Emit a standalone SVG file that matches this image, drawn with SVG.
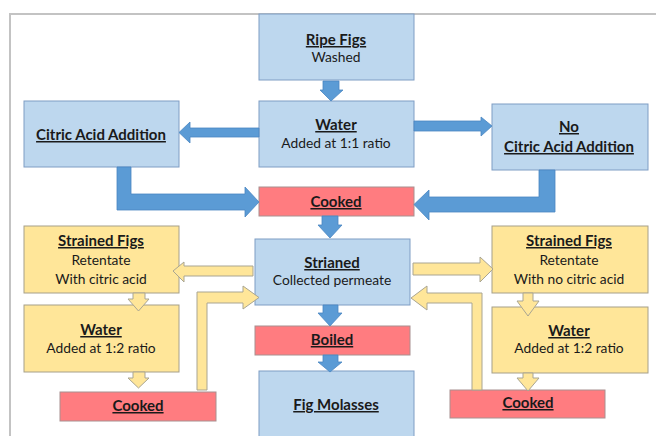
<svg xmlns="http://www.w3.org/2000/svg" width="656" height="436" viewBox="0 0 656 436">
  <style>
    .frame { stroke: #C3C3C3; stroke-width: 2; fill: none; }
    .blue { fill: #BDD7EE; stroke: #7F9DC4; stroke-width: 1; }
    .yellow { fill: #FFE699; stroke: #A6A08A; stroke-width: 1; }
    .red { fill: #FF7C80; stroke: #A89090; stroke-width: 1; }
    .arrow-blue { fill: #5B9BD5; stroke: #4A87C2; stroke-width: 0.8; }
    .arrow-yellow { fill: #FFE699; stroke: #A9A592; stroke-width: 1; }
    text { font-family: Lato, "Liberation Sans", sans-serif; font-size: 13.8px; fill: #1A1A1A; text-anchor: middle; }
    .title { font-weight: bold; font-size: 15px; text-decoration: underline; }
  </style>

  <!-- page frame -->
  <path class="frame" d="M10,436 V14 H656"/>

  <!-- process steps -->
  <g id="ripe-figs">
    <rect class="blue" x="259" y="14" width="155" height="66"/>
    <text class="title" x="336" y="45">Ripe Figs</text>
    <text x="336" y="62">Washed</text>
  </g>
  <g id="water-1-1">
    <rect class="blue" x="259" y="101" width="155" height="66"/>
    <text class="title" x="336" y="130">Water</text>
    <text x="336" y="148">Added at 1:1 ratio</text>
  </g>
  <g id="citric-acid">
    <rect class="blue" x="24" y="101" width="155" height="66"/>
    <text class="title" x="101" y="140">Citric Acid Addition</text>
  </g>
  <g id="no-citric-acid">
    <rect class="blue" x="492" y="104" width="156" height="66"/>
    <text class="title" x="569" y="132">No</text>
    <text class="title" x="569" y="152">Citric Acid Addition</text>
  </g>
  <g id="cooked-main">
    <rect class="red" x="259" y="187" width="155" height="29"/>
    <text class="title" x="336" y="207">Cooked</text>
  </g>
  <g id="strained-figs-left">
    <rect class="yellow" x="24" y="226" width="155" height="67"/>
    <text class="title" x="101" y="246">Strained Figs</text>
    <text x="101" y="265">Retentate</text>
    <text x="101" y="284">With citric acid</text>
  </g>
  <g id="water-left">
    <rect class="yellow" x="24" y="305" width="155" height="67"/>
    <text class="title" x="101" y="335">Water</text>
    <text x="101" y="353">Added at 1:2 ratio</text>
  </g>
  <g id="cooked-left">
    <rect class="red" x="60" y="392" width="156" height="29"/>
    <text class="title" x="138" y="411">Cooked</text>
  </g>
  <g id="strianed">
    <rect class="blue" x="255" y="239" width="155" height="66"/>
    <text class="title" x="332" y="268">Strianed</text>
    <text x="332" y="285">Collected permeate</text>
  </g>
  <g id="boiled">
    <rect class="red" x="255" y="326" width="155" height="29"/>
    <text class="title" x="332" y="345">Boiled</text>
  </g>
  <g id="fig-molasses">
    <rect class="blue" x="259" y="371" width="155" height="70"/>
    <text class="title" x="336" y="410">Fig Molasses</text>
  </g>
  <g id="strained-figs-right">
    <rect class="yellow" x="492" y="226" width="156" height="67"/>
    <text class="title" x="569" y="246">Strained Figs</text>
    <text x="569" y="265">Retentate</text>
    <text x="569" y="284">With no citric acid</text>
  </g>
  <g id="water-right">
    <rect class="yellow" x="492" y="307" width="156" height="66"/>
    <text class="title" x="569" y="336">Water</text>
    <text x="569" y="353">Added at 1:2 ratio</text>
  </g>
  <g id="cooked-right">
    <rect class="red" x="450" y="390" width="155" height="28"/>
    <text class="title" x="528" y="408">Cooked</text>
  </g>

  <!-- block arrows -->
  <g id="connectors">
    <!-- main line, blue -->
    <polygon class="arrow-blue" points="323,81 339,81 339,90 343,90 331,101 320,90 323,90"/>
    <polygon class="arrow-blue" points="259,128 190,128 190,122 179,132.5 190,143 190,137 259,137"/>
    <polygon class="arrow-blue" points="414,121 481,121 481,117 492,126 481,136 481,131 414,131"/>
    <polygon class="arrow-blue" points="117,167 131,167 131,194 245,194 245,187 259,202 245,217 245,210 117,210"/>
    <polygon class="arrow-blue" points="555,170 539,170 539,197 429,197 429,190 414,204.5 429,220 429,212 555,212"/>
    <polygon class="arrow-blue" points="322,216 338,216 338,225 342,225 330,238 318,225 322,225"/>
    <polygon class="arrow-blue" points="323,305 338,305 338,313 342,313 330,326 318,313 323,313"/>
    <polygon class="arrow-blue" points="323,355 338,355 338,362 342,362 330,372 318,362 323,362"/>

    <!-- left branch, yellow -->
    <polygon class="arrow-yellow" points="253,266 184,266 184,262 173,271 184,282 184,276 253,276"/>
    <polygon class="arrow-yellow" points="133,293 145,293 145,299 149,299 138.5,311 128,299 133,299"/>
    <polygon class="arrow-yellow" points="133,372 145,372 145,378 149,378 138.5,388 128,378 133,378"/>
    <polygon class="arrow-yellow" points="197,390 197,292 243,292 243,286 259,297.5 243,309 243,303 207,303 207,390"/>

    <!-- right branch, yellow -->
    <polygon class="arrow-yellow" points="413,263 480,263 480,257 493,269 480,282 480,275 413,275"/>
    <polygon class="arrow-yellow" points="523,293 533,293 533,301 539,301 528,316 517,301 523,301"/>
    <polygon class="arrow-yellow" points="523,373 533,373 533,378 539,378 528,391 517,378 523,378"/>
    <polygon class="arrow-yellow" points="482,390 482,293 427,293 427,286 411,298 427,310 427,303 472,303 472,390"/>
  </g>
</svg>
